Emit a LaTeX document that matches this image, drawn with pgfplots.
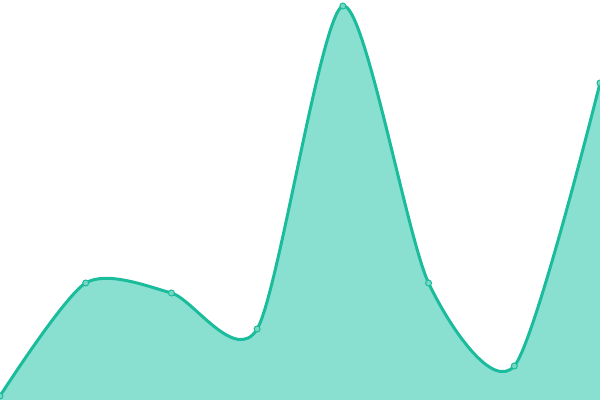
\documentclass[border=0pt]{standalone}
\usepackage{pgfplots}
\pgfplotsset{compat=1.18}
\definecolor{lineC}{RGB}{26,188,156}
\definecolor{fillC}{RGB}{138,224,208}
\definecolor{markC}{RGB}{118,215,196}
\begin{document}
\begin{tikzpicture}
\begin{axis}[
  width=600bp, height=400bp,
  scale only axis,
  hide axis,
  xmin=0, xmax=7,
  ymin=0, ymax=400,
  clip=true,
]
\addplot[draw=none, fill=fillC, smooth, tension=0.45] coordinates {
  (0,4) (1,117) (2,107) (3,71) (4,394) (5,117) (6,34) (7,317)
} \closedcycle;
\addplot[lineC, line width=3bp, smooth, tension=0.45,
  mark=*, mark size=3bp,
  mark options={fill=markC, draw=lineC, line width=1bp}] coordinates {
  (0,4) (1,117) (2,107) (3,71) (4,394) (5,117) (6,34) (7,317)
};
\end{axis}
\pgfresetboundingbox
\path (current axis.south west) rectangle (current axis.north east);
\end{tikzpicture}
\end{document}
